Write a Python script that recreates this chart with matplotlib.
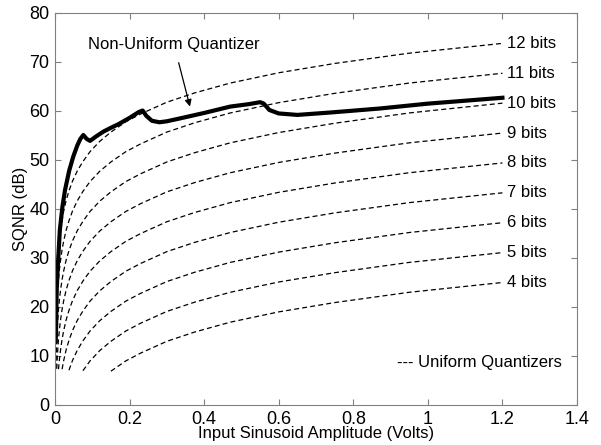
import numpy as np
import matplotlib
matplotlib.use("Agg")
import matplotlib.pyplot as plt

plt.rcParams["font.family"] = ["Liberation Sans", "DejaVu Sans"]

# input amplitude grid (Volts) shared by the uniform quantizer curves
amp = [0.00059, 0.00117, 0.00234, 0.0047, 0.006, 0.0075, 0.0094, 0.012, 0.015,
       0.019, 0.0234, 0.03, 0.0375, 0.047, 0.06, 0.075, 0.094, 0.12, 0.15,
       0.19, 0.23, 0.3, 0.375, 0.47, 0.6, 0.75, 0.95, 1.2]

# SQNR (dB) of each uniform quantizer (last values on the grid)
sqnr_4 = [6.9, 9.0, 10.6, 13.0, 14.9, 16.9, 19.0, 20.9, 23.0, 25.0]
sqnr_5 = [7.0, 9.0, 11.1, 13.0, 15.1, 16.7, 19.1, 21.0, 23.0, 25.1, 27.0, 29.1, 31.1]
sqnr_6 = [7.1, 9.1, 11.2, 13.1, 15.1, 17.2, 19.1, 21.2, 22.8, 25.2, 27.1, 29.1,
          31.2, 33.1, 35.2, 37.2]
sqnr_7 = [7.3, 9.1, 11.3, 13.2, 15.2, 17.3, 19.2, 21.2, 23.3, 25.2, 27.3, 28.9,
          31.3, 33.2, 35.2, 37.3, 39.2, 41.3, 43.3]
sqnr_8 = [7.3, 9.4, 11.3, 13.4, 15.2, 17.4, 19.3, 21.3, 23.4, 25.3, 27.3, 29.4,
          31.3, 33.4, 35.0, 37.4, 39.3, 41.3, 43.4, 45.3, 47.4, 49.4]
sqnr_9 = [7.4, 9.5, 11.4, 13.4, 15.5, 17.4, 19.5, 21.3, 23.5, 25.4, 27.4, 29.5,
          31.4, 33.4, 35.5, 37.4, 39.5, 41.1, 43.5, 45.4, 47.4, 49.5, 51.4, 53.5, 55.5]
sqnr_10 = [7.4, 13.5, 15.6, 17.5, 19.5, 21.6, 23.5, 25.6, 27.4, 29.6, 31.5, 33.5,
           35.6, 37.5, 39.5, 41.6, 43.5, 45.6, 47.2, 49.6, 51.5, 53.5, 55.6, 57.5,
           59.6, 61.6]
sqnr_11 = [7.5, 13.5, 19.6, 21.7, 23.6, 25.6, 27.7, 29.6, 31.7, 33.5, 35.7, 37.6,
           39.6, 41.7, 43.6, 45.6, 47.7, 49.6, 51.7, 53.3, 55.7, 57.6, 59.6, 61.7,
           63.6, 65.7, 67.7]
sqnr_12 = [7.6, 13.6, 19.6, 25.7, 27.8, 29.7, 31.7, 33.8, 35.7, 37.8, 39.6, 41.8,
           43.7, 45.7, 47.8, 49.7, 51.7, 53.8, 55.7, 57.8, 59.4, 61.8, 63.7, 65.7,
           67.8, 69.7, 71.8, 73.8]

uniform = {4: sqnr_4, 5: sqnr_5, 6: sqnr_6, 7: sqnr_7, 8: sqnr_8,
           9: sqnr_9, 10: sqnr_10, 11: sqnr_11, 12: sqnr_12}

# non-uniform quantizer
nu_amp = [0.002, 0.003, 0.0045, 0.007, 0.009, 0.013, 0.02, 0.027, 0.038, 0.049,
          0.06, 0.068, 0.076, 0.085, 0.094, 0.11, 0.13, 0.148, 0.17, 0.2, 0.225,
          0.235, 0.245, 0.26, 0.28, 0.3, 0.336, 0.4, 0.47, 0.52, 0.55, 0.56,
          0.575, 0.6, 0.65, 0.74, 0.87, 1.0, 1.1, 1.2]
nu_sqnr = [13, 16, 23.5, 27.5, 30.3, 35.7, 40.5, 43.9, 47.8, 50.7, 53.0, 54.3,
           55.1, 54.3, 53.9, 54.8, 55.8, 56.5, 57.3, 58.6, 59.8, 60.1, 59.0, 58.0,
           57.7, 57.9, 58.5, 59.6, 60.9, 61.4, 61.8, 61.5, 60.2, 59.5, 59.2, 59.7,
           60.5, 61.5, 62.1, 62.7]

fig = plt.figure(figsize=(6.01, 4.45), dpi=100)
ax = fig.add_axes([0.0915, 0.0899, 0.8686, 0.8809])

for bits, vals in uniform.items():
    xs = amp[len(amp) - len(vals):]
    ax.plot(xs, vals, color="black", linewidth=0.9, dashes=(4, 2.5))
    ax.text(1.212, vals[-1], "%d bits" % bits, fontsize=12, va="center", ha="left")

ax.plot(nu_amp, nu_sqnr, color="black", linewidth=3.0, solid_joinstyle="round")

ax.annotate("Non-Uniform Quantizer", xy=(0.362, 60.9), xytext=(0.319, 73.6),
            fontsize=12, ha="center", va="center",
            arrowprops=dict(arrowstyle="-|>", color="black", lw=0.9,
                            shrinkA=6, shrinkB=0, mutation_scale=10))
ax.text(0.918, 8.6, "--- Uniform Quantizers", fontsize=12, va="center", ha="left")

ax.set_xlim(0, 1.4)
ax.set_ylim(0, 80)
ax.set_xticks(np.arange(0, 1.41, 0.2))
ax.set_xticklabels(["0", "0.2", "0.4", "0.6", "0.8", "1", "1.2", "1.4"])
ax.set_yticks(np.arange(0, 81, 10))
ax.tick_params(direction="in", top=True, right=True, length=4, width=0.8,
               color="#808080", labelsize=13)
ax.tick_params(axis="x", pad=4)
ax.tick_params(axis="y", pad=4)
for s in ax.spines.values():
    s.set_color("#808080")
    s.set_linewidth(0.8)

ax.set_xlabel("Input Sinusoid Amplitude (Volts)", fontsize=12, labelpad=-1)
ax.set_ylabel("SQNR (dB)", fontsize=12, labelpad=1)

fig.savefig("out.png", dpi=100)
